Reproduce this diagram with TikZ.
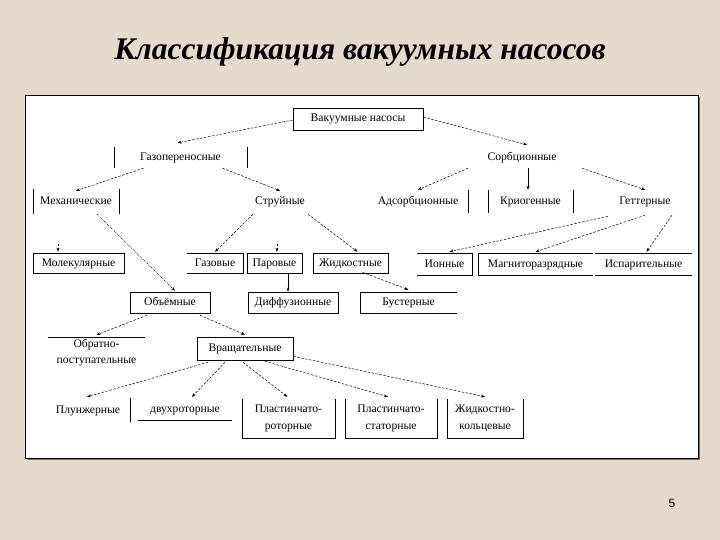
\documentclass[tikz,border=0pt]{standalone}
\usepackage{fontspec}
\setmainfont{Liberation Serif}
\newfontfamily\pagenumfont{Liberation Sans}
\usetikzlibrary{arrows.meta,calc}
\definecolor{bg}{RGB}{228,219,203}
\definecolor{shadowc}{RGB}{120,115,105}
\begin{document}
\begin{tikzpicture}[x=1pt,y=-1pt,
  lbl/.style={inner sep=0pt, align=center, text height=8pt, text depth=2pt, font=\fontsize{11.6}{16}\selectfont},
  lbltwo/.style={inner sep=0pt, align=center, font=\fontsize{11.6}{17}\selectfont},
  full/.style={lbl, draw, line width=0.6pt},
  edge/.style={line width=0.6pt},
  arr/.style={-{Stealth[length=4pt,width=3pt]}, line width=0.5pt, dash pattern=on 2.5pt off 1.5pt},
  dotarr/.style={arr, dash pattern=on 1pt off 1pt},
  sarr/.style={-{Stealth[length=4pt,width=3pt]}, line width=0.6pt}]
\useasboundingbox (0,0) rectangle (720,540);
\fill[bg] (0,0) rectangle (720,540);
% panel
\fill[shadowc] (27,97) rectangle (700,460);
\filldraw[fill=white, draw=black, line width=0.8pt] (25,95) rectangle (698,458);
% title
\node[font=\fontsize{31.5}{33}\selectfont\bfseries\itshape] (title) at (360,52) {Классификация вакуумных насосов};
\node[font=\pagenumfont\fontsize{12}{12}\selectfont] (pnum) at (672,503) {5};

% level 1
\node[full, minimum width=130pt, minimum height=22pt] (vac) at (358,119) {Вакуумные насосы};
% level 2
\node[lbl, minimum width=133pt, minimum height=21pt] (gaz) at (180.5,157.5) {Газопереносные};
\node[lbl, minimum width=80pt, minimum height=21pt] (sorb) at (522,157.5) {Сорбционные};
% level 3
\node[lbl, minimum width=86pt, minimum height=25pt] (mech) at (76,201.5) {Механические};
\node[lbl, minimum width=60pt, minimum height=24pt] (struy) at (280,202) {Струйные};
\node[lbl, minimum width=100pt, minimum height=23pt] (ads) at (418,201.5) {Адсорбционные};
\node[lbl, minimum width=85pt, minimum height=23pt] (krio) at (530.5,201.5) {Криогенные};
\node[lbl, minimum width=60pt, minimum height=24pt] (get) at (645,202) {Геттерные};
% level 4
\node[full, minimum width=91pt, minimum height=20pt] (mol) at (78.5,263) {Молекулярные};
\node[lbl, minimum width=56pt, minimum height=20pt] (gazov) at (215,263) {Газовые};
\node[full, minimum width=55pt, minimum height=20pt] (par) at (274.5,263) {Паровые};
\node[full, minimum width=75pt, minimum height=20pt] (zhid) at (350.5,263) {Жидкостные};
\node[lbl, minimum width=55pt, minimum height=22pt] (ion) at (444.5,264) {Ионные};
\node[lbl, minimum width=115pt, minimum height=22pt] (magn) at (535.5,264) {Магниторазрядные};
\node[lbl, minimum width=97pt, minimum height=22pt] (isp) at (643.5,264) {Испарительные};
% level 5
\node[full, minimum width=80pt, minimum height=21pt] (obem) at (170,302.5) {Объёмные};
\node[full, minimum width=90pt, minimum height=21pt] (diff) at (293,302.5) {Диффузионные};
\node[lbl, minimum width=97pt, minimum height=21pt] (bust) at (408.5,302.5) {Бустерные};
% level 6
\node[lbltwo, font=\fontsize{11.6}{16}\selectfont, minimum width=97pt, minimum height=32pt] (obr) at (96.5,353) {Обратно-\\поступательные};
\node[full, minimum width=96pt, minimum height=23pt] (vrash) at (245,348.5) {Вращательные};
% level 7
\node[lbl, minimum width=84pt, minimum height=24pt] (plun) at (88,410) {Плунжерные};
\node[lbl, minimum width=94pt, minimum height=21pt] (dvuh) at (185,409.5) {двухроторные};
\node[lbltwo, minimum width=93pt, minimum height=39pt] (plrot) at (288.5,418.5) {Пластинчато-\\роторные};
\node[lbltwo, minimum width=92pt, minimum height=39pt] (plstat) at (391,418.5) {Пластинчато-\\статорные};
\node[lbltwo, minimum width=76pt, minimum height=39pt] (zhkol) at (485,418.5) {Жидкостно-\\кольцевые};

% partial borders
\draw[edge] (gaz.north west) -- (gaz.south west) (gaz.north east) -- (gaz.south east);
\draw[edge] (mech.north west) -- (mech.south west) (mech.north east) -- (mech.south east);
\draw[edge] (ads.north east) -- (ads.south east);
\draw[edge] (krio.north west) -- (krio.south west) (krio.north east) -- (krio.south east);
\draw[edge] (gazov.north west) -- (gazov.north east) -- (gazov.south east) -- (gazov.south west);
\draw[edge] (ion.north west) -- (ion.north east) -- (ion.south east) -- (ion.south west);
\draw[edge] (magn.north east) -- (magn.north west) -- (magn.south west) -- (magn.south east);
\draw[edge] (isp.north west) -- (isp.north east) (isp.south west) -- (isp.south east);
\draw[edge] (bust.north east) -- (bust.north west) -- (bust.south west) -- (bust.south east);
\draw[edge] (obr.north west) -- (obr.north east);
\draw[edge] (plun.north east) -- (plun.south east);
\draw[edge] (dvuh.south west) -- (dvuh.south east);
\draw[edge] (plrot.north west) -- (plrot.south west) -- (plrot.south east) -- (plrot.north east);
\draw[edge] (plstat.north west) -- (plstat.south west) -- (plstat.south east) -- (plstat.north east);
\draw[edge] (zhkol.north west) -- (zhkol.south west) -- (zhkol.south east) -- (zhkol.north east);

% connectors
\draw[arr] ([yshift=-1pt]vac.west) -- ([xshift=-3pt,yshift=4pt]gaz.north);
\draw[arr] ([yshift=2pt]vac.east) -- ([xshift=5pt,yshift=2pt]sorb.north);
\draw[arr] ([xshift=-37pt]gaz.south) -- ([yshift=-2pt]mech.north);
\draw[arr] ([xshift=42pt]gaz.south) -- ([yshift=-1pt]struy.north);
\draw[arr] ([xshift=-54pt]sorb.south) -- (ads.north);
\draw[sarr] ([xshift=6pt]sorb.south) -- ([xshift=6pt]sorb.south |- krio.north);
\draw[arr] ([xshift=60pt]sorb.south) -- (get.north);
\draw[arr] ([xshift=-20.5pt,yshift=9pt]mol.north) -- ([xshift=-20.5pt,yshift=1pt]mol.north);
\draw[dotarr] ([xshift=21pt]mech.south) -- ([xshift=5pt,yshift=1pt]obem.north);
\draw[arr] ([xshift=-27pt]struy.south) -- ([yshift=1pt]gazov.north);
\draw[arr] ([xshift=2.5pt,yshift=9pt]par.north) -- ([xshift=2.5pt,yshift=1pt]par.north);
\draw[arr] ([xshift=28pt]struy.south) -- ([xshift=7pt,yshift=1pt]zhid.north);
\draw[arr] ([xshift=-37pt,yshift=-2pt]get.south) -- ([xshift=5pt,yshift=1pt]ion.north);
\draw[arr] ([yshift=-1pt]get.south) -- ([yshift=1pt]magn.north);
\draw[arr] ([xshift=27pt,yshift=-1pt]get.south) -- ([xshift=3pt,yshift=1pt]isp.north);
\draw[sarr] ([xshift=13.5pt]par.south) -- ([xshift=13.5pt]par.south |- diff.north);
\draw[arr] ([xshift=12pt,yshift=1pt]zhid.south) -- ([yshift=2pt]bust.north);
\draw[arr] ([xshift=-23pt,yshift=-2pt]obem.south) -- ([yshift=2pt]obr.north);
\draw[arr] ([xshift=30pt,yshift=-2pt]obem.south) -- ([yshift=2pt]vrash.north);
\draw[arr] ([xshift=-37pt,yshift=-2pt]vrash.south) -- ([xshift=-1pt,yshift=1pt]plun.north);
\draw[arr] ([xshift=-20pt,yshift=-2pt]vrash.south) -- ([xshift=7pt,yshift=2pt]dvuh.north);
\draw[arr] ([xshift=-2pt,yshift=-2pt]vrash.south) -- ([xshift=-1pt,yshift=2pt]plrot.north);
\draw[arr] ([xshift=20pt,yshift=-1pt]vrash.south) -- ([xshift=-3pt,yshift=2pt]plstat.north);
\draw[arr] ([yshift=4pt]vrash.south east) -- ([yshift=2pt]zhkol.north);
\end{tikzpicture}
\end{document}
